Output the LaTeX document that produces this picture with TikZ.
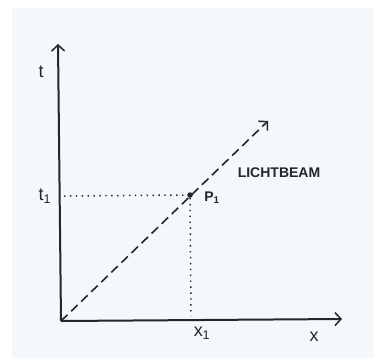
\documentclass[tikz,border=0pt]{standalone}
\usepackage{fontspec}
\setmainfont{Liberation Sans}
\usetikzlibrary{arrows.meta}
\definecolor{bgc}{HTML}{F2F8FB}
\definecolor{ink}{HTML}{262626}
\begin{document}
\begin{tikzpicture}[x=1pt,y=-1pt,
  axis/.style={draw=ink, line width=2pt, -{Straight Barb[length=6pt,width=13pt,line width=1.5pt]}},
  beam/.style={draw=ink, line width=1.6pt, dash pattern=on 9pt off 5pt, -{Straight Barb[length=6pt,width=13pt,line width=1.5pt]}},
  guide/.style={draw=ink, line width=1.5pt, dash pattern=on 1.4pt off 4.5pt},
  dot/.style={circle, fill=ink, inner sep=0pt, minimum size=5.5pt},
  lab/.style={text=ink, inner sep=0pt, font=\fontsize{18}{18}\selectfont},
  small/.style={text=ink, inner sep=0pt, font=\bfseries\fontsize{14}{14}\selectfont}]
\useasboundingbox (0,0) rectangle (374,360);
\fill[bgc] (12,8) rectangle (374,358);
\coordinate (O) at (61,321);
\coordinate (T) at (58,44);
\coordinate (X) at (342,319);
\coordinate (B) at (268,121);
\node[dot] (P) at (190,195) {};
\draw[axis] (O) -- (T);
\draw[axis] (O) -- (X);
\draw[beam] (O) -- (B);
\coordinate (PL) at (64,196);
\coordinate (PB) at (191,316);
\draw[guide] (PL) -- (P.west);
\draw[guide] (P.south) -- (PB);
\node[lab] (tlab) at (41,72) {t};
\node[lab] (t1) at (45,196) {t\textsubscript{1}};
\node[small] (p1) at (212,198) {P\textsubscript{1}};
\node[lab] (x1) at (202,333) {x\textsubscript{1}};
\node[lab] (xlab) at (314,337) {x};
\node[small] (beamlab) at (279,173) {LICHTBEAM};
\end{tikzpicture}
\end{document}
